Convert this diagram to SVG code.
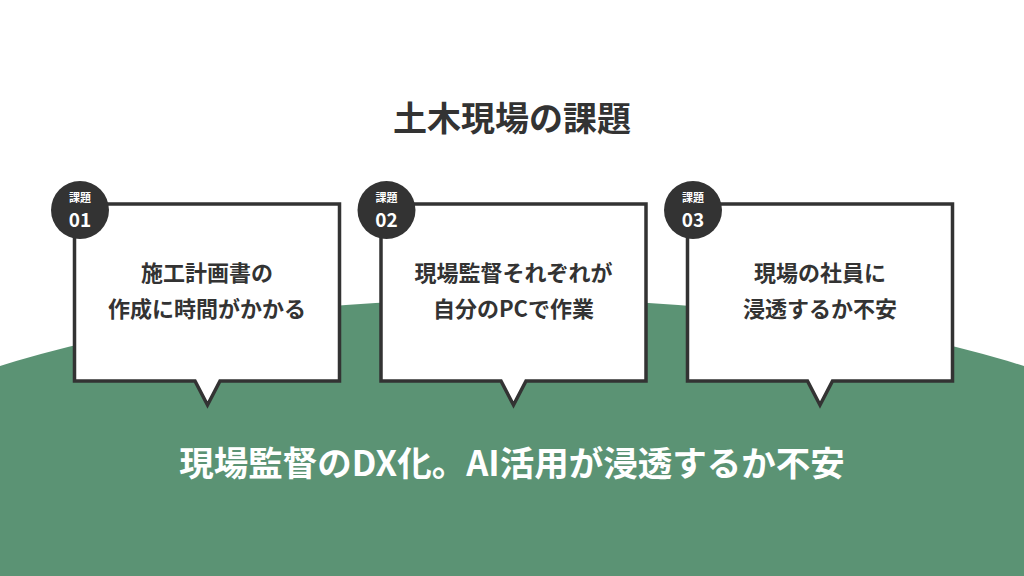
<svg xmlns="http://www.w3.org/2000/svg" width="1024" height="576" viewBox="0 0 1024 576">
<style>
.t{font-family:"Noto Sans CJK JP","Noto Sans",sans-serif;font-weight:700;text-anchor:middle}
.box{fill:#fff;stroke:#333;stroke-width:3.5;stroke-linejoin:miter}
.bt{fill:#333;font-size:22px}
.badge{fill:#333}
.bl{fill:#fff;font-size:11px}
.bn{fill:#fff;font-size:19px}
</style>
<rect width="1024" height="576" fill="#fff"/>
<ellipse cx="512" cy="510" rx="700" ry="211" fill="#5b9374"/>
<text class="t" x="512" y="131" font-size="34" fill="#333">土木現場の課題</text>
<g id="node1">
<path class="box" d="M74.5,204 H339.5 V381 H220 L207.5,405 L195,381 H74.5 Z"/>
<circle class="badge" cx="80" cy="210" r="29"/>
<text class="t bl" x="80" y="202">課題</text>
<text class="t bn" x="80" y="227">01</text>
<text class="t bt" x="207" y="281">施工計画書の</text>
<text class="t bt" x="207" y="317">作成に時間がかかる</text>
</g>
<g id="node2">
<path class="box" d="M381,204 H646 V381 H526 L513.5,405 L501,381 H381 Z"/>
<circle class="badge" cx="386.5" cy="210" r="29"/>
<text class="t bl" x="386.5" y="202">課題</text>
<text class="t bn" x="386.5" y="227">02</text>
<text class="t bt" x="513.5" y="281">現場監督それぞれが</text>
<text class="t bt" x="513.5" y="317">自分のPCで作業</text>
</g>
<g id="node3">
<path class="box" d="M687.5,204 H952.5 V381 H832.5 L820,405 L807.5,381 H687.5 Z"/>
<circle class="badge" cx="693" cy="210" r="29"/>
<text class="t bl" x="693" y="202">課題</text>
<text class="t bn" x="693" y="227">03</text>
<text class="t bt" x="820" y="281">現場の社員に</text>
<text class="t bt" x="820" y="317">浸透するか不安</text>
</g>
<g id="connectors"></g>
<text class="t" x="512" y="476" font-size="34.5" fill="#fff">現場監督のDX化。AI活用が浸透するか不安</text>
</svg>
